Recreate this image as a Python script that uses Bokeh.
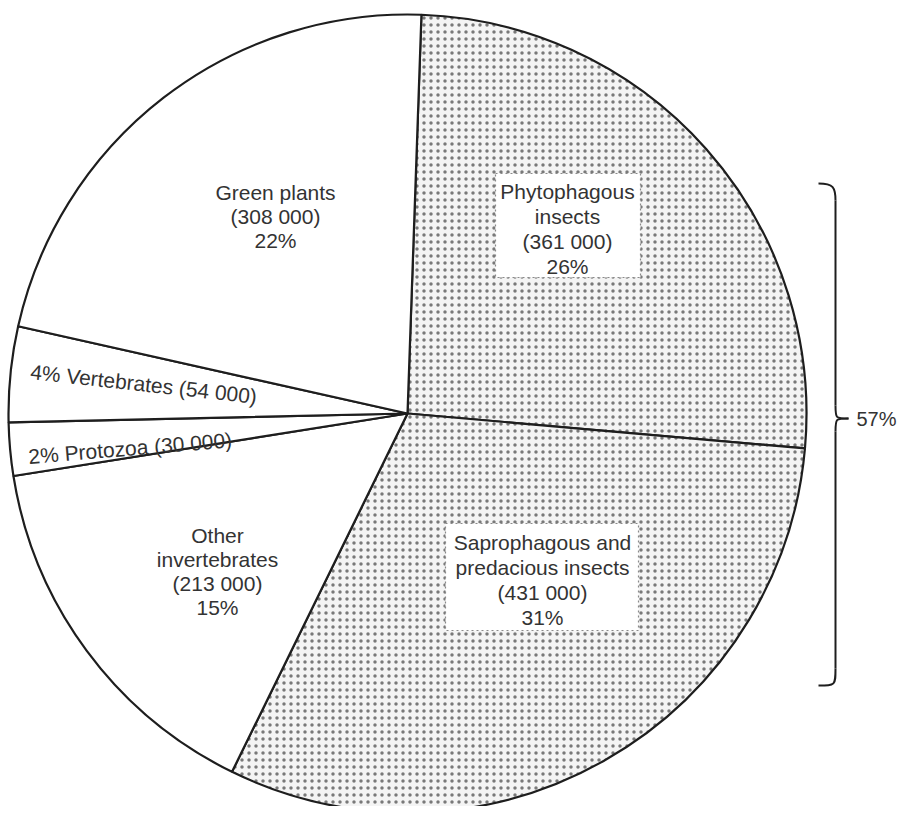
import math
from bokeh.plotting import figure
from bokeh.models import Range1d, ColumnDataSource
from bokeh.core.properties import value
from bokeh.embed import file_html
from bokeh.resources import INLINE

# ---- data (clockwise from the top) ----
categories = ["Phytophagous insects", "Saprophagous and predacious insects",
              "Other invertebrates", "Protozoa", "Vertebrates", "Green plants"]
counts = [361000, 431000, 213000, 30000, 54000, 308000]
percents = [26, 31, 15, 2, 4, 22]
stippled = [True, True, False, False, False, False]
insect_total_pct = 57

W, H = 898, 806
p = figure(width=W, height=H, output_backend="svg", toolbar_location=None,
           x_range=Range1d(0, W), y_range=Range1d(0, H),
           min_border=0)
p.axis.visible = False
p.grid.visible = False
p.outline_line_color = None
p.background_fill_color = "white"

def Y(py):
    return H - py

FONT = value("Liberation Sans")
TXT = "#333333"
LINE = "#1e1e1e"
FS = "21px"

cx, cy, R = 407, Y(413), 399
start_offset = 88.0  # degrees (math), first slice begins just right of 12 o'clock
total = sum(counts)
starts, ends = [], []
cum = 0
for c in counts:
    a0 = start_offset - 360.0 * cum / total
    cum += c
    a1 = start_offset - 360.0 * cum / total
    starts.append(math.radians(a0))
    ends.append(math.radians(a1))

for s, e, st in zip(starts, ends, stippled):
    if st:
        p.wedge(x=cx, y=cy, radius=R, start_angle=s, end_angle=e, direction="clock",
                fill_color="#f4f4f4", hatch_pattern="dot", hatch_color="#505050",
                hatch_scale=7, hatch_weight=1.4, hatch_alpha=0.75,
                line_color=LINE, line_width=2.2)
    else:
        p.wedge(x=cx, y=cy, radius=R, start_angle=s, end_angle=e, direction="clock",
                fill_color="white", line_color=LINE, line_width=2.2)

# pasted label boxes for the stippled slices
p.quad(left=[495, 445], right=[640, 638], top=[Y(173), Y(523)], bottom=[Y(277), Y(630)],
       fill_color="white", line_color="#8a8a8a", line_dash="2 3", line_width=1.2)

def fmt(n):
    return f"{n:,}".replace(",", " ")

def block(x, y0, lines, step=25):
    src = ColumnDataSource(dict(x=[x] * len(lines),
                                y=[Y(y0 + i * step) for i in range(len(lines))],
                                t=lines))
    p.text(x="x", y="y", text="t", source=src, text_font=FONT, text_font_size=FS,
           text_color=TXT, text_align="center", text_baseline="middle")

block(567, 191, ["Phytophagous", "insects", f"({fmt(counts[0])})", f"{percents[0]}%"])
block(542, 542, ["Saprophagous and", "predacious insects", f"({fmt(counts[1])})", f"{percents[1]}%"])
block(217, 535, ["Other", "invertebrates", f"({fmt(counts[2])})", f"{percents[2]}%"], step=24)
block(275, 192, ["Green plants", f"({fmt(counts[5])})", f"{percents[5]}%"], step=24)

p.text(x=[30], y=[Y(371)], text=[f"{percents[4]}% Vertebrates ({fmt(counts[4])})"],
       angle=math.radians(-6.3), text_font=FONT, text_font_size=FS, text_color=TXT,
       text_align="left", text_baseline="middle")
p.text(x=[28], y=[Y(456)], text=[f"{percents[3]}% Protozoa ({fmt(counts[3])})"],
       angle=math.radians(4.7), text_font=FONT, text_font_size=FS, text_color=TXT,
       text_align="left", text_baseline="middle")

# bracket for the insects
bx, top, mid, bot = 835, 183, 418, 685
p.bezier(x0=[818, bx, 848, bx], y0=[Y(top), Y(mid - 13), Y(mid), Y(bot - 17)],
         x1=[bx, 848, bx, 818], y1=[Y(top + 17), Y(mid), Y(mid + 13), Y(bot)],
         cx0=[833, bx, bx, bx], cy0=[Y(top), Y(mid), Y(mid), Y(bot)],
         cx1=[bx, bx, bx, bx], cy1=[Y(top + 4), Y(mid), Y(mid), Y(bot)],
         line_color=LINE, line_width=2)
p.segment(x0=[bx, bx], y0=[Y(top + 17), Y(mid + 13)], x1=[bx, bx], y1=[Y(mid - 13), Y(bot - 17)],
          line_color=LINE, line_width=2)
p.text(x=[856], y=[Y(418)], text=[f"{insect_total_pct}%"], text_font=FONT, text_font_size="20px",
       text_color=TXT, text_align="left", text_baseline="middle")

open("out.html", "w").write(file_html(p, INLINE))
